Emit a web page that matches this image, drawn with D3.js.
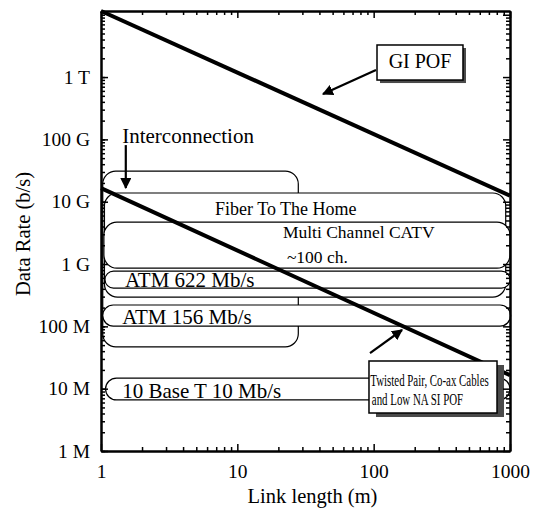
<!DOCTYPE html>
<html>
<head>
<meta charset="utf-8">
<script src="https://cdn.jsdelivr.net/npm/d3@7"></script>
<style>
  body { margin: 0; background: #fff; }
  svg { display: block; }
  text { font-family: "Liberation Serif", "Times New Roman", serif; fill: #000; }
</style>
</head>
<body>
<svg id="chart" width="540" height="515"></svg>
<script>
// ---- data -------------------------------------------------------------
const xTickValues = [1, 10, 100, 1000];
const xTickLabels = ["1", "10", "100", "1000"];
const yTickValues = [1e6, 1e7, 1e8, 1e9, 1e10, 1e11, 1e12];
const yTickLabels = ["1 M", "10 M", "100 M", "1 G", "10 G", "100 G", "1 T"];

// bandwidth-length limits, rate falls as 1/length
const giPofLine = [[1, 1.15e13], [1000, 1.25e10]];
const siPofLine = [[1, 1.65e10], [1000, 1.65e7]];

// application regions: length span (m) and rate span (b/s)
const appNames   = ["Interconnection", "Fiber To The Home", "Multi Channel CATV", "ATM 622 Mb/s", "ATM 156 Mb/s", "10 Base T 10 Mb/s"];
const appLength  = [[1.03, 28], [1.06, 930], [1.05, 1000], [1.07, 1000], [1.03, 1010], [1.08, 1000]];
const appRate    = [[4.7e7, 3.1e10], [2.95e8, 1.38e10], [8.6e8, 4.7e9], [4.1e8, 7.7e8], [1.01e8, 2.2e8], [6.6e6, 1.48e7]];

// ---- layout -----------------------------------------------------------
const svg = d3.select("#chart");
const pL = 101, pR = 510, pT = 11, pB = 451;

const x = d3.scaleLog().domain([1, 1000]).range([pL, pR]);
const y = d3.scaleLog().domain([1e6, Math.pow(10, 13.06)]).range([pB, pT]);

function minorTicks(lo, hi) {
  const out = [];
  for (let e = Math.floor(Math.log10(lo)); e <= Math.ceil(Math.log10(hi)); e++) {
    for (let m = 2; m <= 9; m++) {
      const v = m * Math.pow(10, e);
      if (v > lo && v < hi) out.push(v);
    }
  }
  return out;
}
const xMinor = minorTicks(1, 1000);
const yMinor = minorTicks(1e6, Math.pow(10, 13.06));
const yMajorAll = [1e6, 1e7, 1e8, 1e9, 1e10, 1e11, 1e12, 1e13];

// ---- application regions ---------------------------------------------
const regions = svg.append("g").attr("class", "regions");
appNames.forEach((name, i) => {
  const x0 = x(appLength[i][0]), x1 = x(appLength[i][1]);
  const y0 = y(appRate[i][1]), y1 = y(appRate[i][0]);
  const h = y1 - y0;
  const r = Math.min(13, h / 2);
  regions.append("rect")
    .attr("x", x0).attr("y", y0)
    .attr("width", x1 - x0).attr("height", h)
    .attr("rx", r).attr("ry", r)
    .attr("fill", "#fff").attr("stroke", "#000").attr("stroke-width", 1.2);
});

// ---- limit lines -------------------------------------------------------
const line = d3.line().x(d => x(d[0])).y(d => y(d[1]));
svg.append("path").datum(giPofLine).attr("d", line)
  .attr("fill", "none").attr("stroke", "#000").attr("stroke-width", 4);
svg.append("path").datum(siPofLine).attr("d", line)
  .attr("fill", "none").attr("stroke", "#000").attr("stroke-width", 4);

// ---- region labels -----------------------------------------------------
const labels = svg.append("g");
function label(txt, L, R, size, anchor) {
  labels.append("text").attr("x", x(L)).attr("y", y(R))
    .attr("font-size", size).attr("text-anchor", anchor || "start").text(txt);
}
label(appNames[1], 6.86, 6.1e9, 18);
label("Multi Channel CATV", 21.6, 2.61e9, 17.5);
label("~100 ch.", 23.1, 1.04e9, 17.5);
label(appNames[3], 1.5, 4.28e8, 21);
label(appNames[4], 1.43, 1.09e8, 21);
label(appNames[5], 1.43, 7.08e6, 21);
label(appNames[0], 1.43, 8.74e10, 21);

// ---- arrows ------------------------------------------------------------
svg.append("defs").append("marker")
  .attr("id", "head").attr("viewBox", "0 0 10 10")
  .attr("refX", 9).attr("refY", 5)
  .attr("markerWidth", 5).attr("markerHeight", 5)
  .attr("markerUnits", "strokeWidth")
  .attr("orient", "auto")
  .append("path").attr("d", "M0,0 L10,5 L0,10 z").attr("fill", "#000");

function arrow(from, to) {
  svg.append("line")
    .attr("x1", x(from[0])).attr("y1", y(from[1]))
    .attr("x2", x(to[0])).attr("y2", y(to[1]))
    .attr("stroke", "#000").attr("stroke-width", 2.2)
    .attr("marker-end", "url(#head)");
}
arrow([1.52, 8.1e10], [1.52, 1.66e10]);
arrow([104, 1.3e12], [42.5, 5.34e11]);
arrow([94, 3.73e7], [161.5, 8.74e7]);

// ---- callout boxes with drop shadow -----------------------------------
function callout(L0, L1, Rlo, Rhi, sx, sy) {
  const bx = x(L0), bw = x(L1) - x(L0);
  const by = y(Rhi), bh = y(Rlo) - y(Rhi);
  svg.append("rect").attr("x", bx + sx).attr("y", by + sy)
    .attr("width", bw).attr("height", bh).attr("fill", "#4a4a4a");
  svg.append("rect").attr("x", bx).attr("y", by)
    .attr("width", bw).attr("height", bh)
    .attr("fill", "#fff").attr("stroke", "#000").attr("stroke-width", 1.5);
}
callout(105.8, 452, 8.96e11, 3.27e12, 3, 3);
svg.append("text").attr("x", x(218.8)).attr("y", y(1.4e12))
  .attr("font-size", 20).attr("text-anchor", "middle").text("GI POF");

// narrow lettering inside the cable callout
callout(92.4, 803, 4.07e6, 2.78e7, 7, 4);
function narrowText(txt, L, R) {
  svg.append("text")
    .attr("transform", `translate(${x(L)},${y(R)}) scale(0.68,1)`)
    .attr("font-size", 16).text(txt);
}
narrowText("Twisted Pair, Co-ax Cables", 94.5, 1.1e7);
narrowText("and Low NA SI POF", 97, 5.47e6);

// ---- axes --------------------------------------------------------------
function styleAxis(g) {
  g.select(".domain").attr("stroke-width", 2);
  g.selectAll(".tick line").attr("stroke-width", 1.5);
}
// bottom
svg.append("g").attr("transform", `translate(0,${pB})`)
  .call(d3.axisBottom(x).tickValues(xTickValues).tickSize(-7).tickSizeOuter(0)
    .tickFormat((d, i) => xTickLabels[i]).tickPadding(13))
  .call(styleAxis)
  .call(g => g.selectAll("text").attr("font-size", 19.5).attr("font-family", "Liberation Serif").attr("fill", "#000"));
svg.append("g").attr("transform", `translate(0,${pB})`)
  .call(d3.axisBottom(x).tickValues(xMinor).tickSize(-4).tickFormat("").tickSizeOuter(0))
  .call(styleAxis);
// top
svg.append("g").attr("transform", `translate(0,${pT})`)
  .call(d3.axisTop(x).tickValues(xTickValues).tickSize(-7).tickFormat("").tickSizeOuter(0))
  .call(styleAxis);
svg.append("g").attr("transform", `translate(0,${pT})`)
  .call(d3.axisTop(x).tickValues(xMinor).tickSize(-4).tickFormat("").tickSizeOuter(0))
  .call(styleAxis);
// left
svg.append("g").attr("transform", `translate(${pL},0)`)
  .call(d3.axisLeft(y).tickValues(yTickValues).tickSize(-7).tickSizeOuter(0)
    .tickFormat((d, i) => yTickLabels[i]).tickPadding(11))
  .call(styleAxis)
  .call(g => g.selectAll("text").attr("font-size", 19.5).attr("font-family", "Liberation Serif").attr("fill", "#000"));
svg.append("g").attr("transform", `translate(${pL},0)`)
  .call(d3.axisLeft(y).tickValues(yMajorAll.concat(yMinor)).tickSize(-4).tickFormat("").tickSizeOuter(0))
  .call(styleAxis);
// right
svg.append("g").attr("transform", `translate(${pR},0)`)
  .call(d3.axisRight(y).tickValues(yMajorAll).tickSize(-7).tickFormat("").tickSizeOuter(0))
  .call(styleAxis);
svg.append("g").attr("transform", `translate(${pR},0)`)
  .call(d3.axisRight(y).tickValues(yMinor).tickSize(-4).tickFormat("").tickSizeOuter(0))
  .call(styleAxis);

// ---- axis titles -------------------------------------------------------
svg.append("text").attr("x", (pL + pR) / 2 + 7).attr("y", 503)
  .attr("font-size", 20.5).attr("text-anchor", "middle").text("Link length (m)");
svg.append("text").attr("transform", `translate(30,234) rotate(-90)`)
  .attr("font-size", 20.5).attr("text-anchor", "middle").text("Data Rate (b/s)");
</script>
</body>
</html>
